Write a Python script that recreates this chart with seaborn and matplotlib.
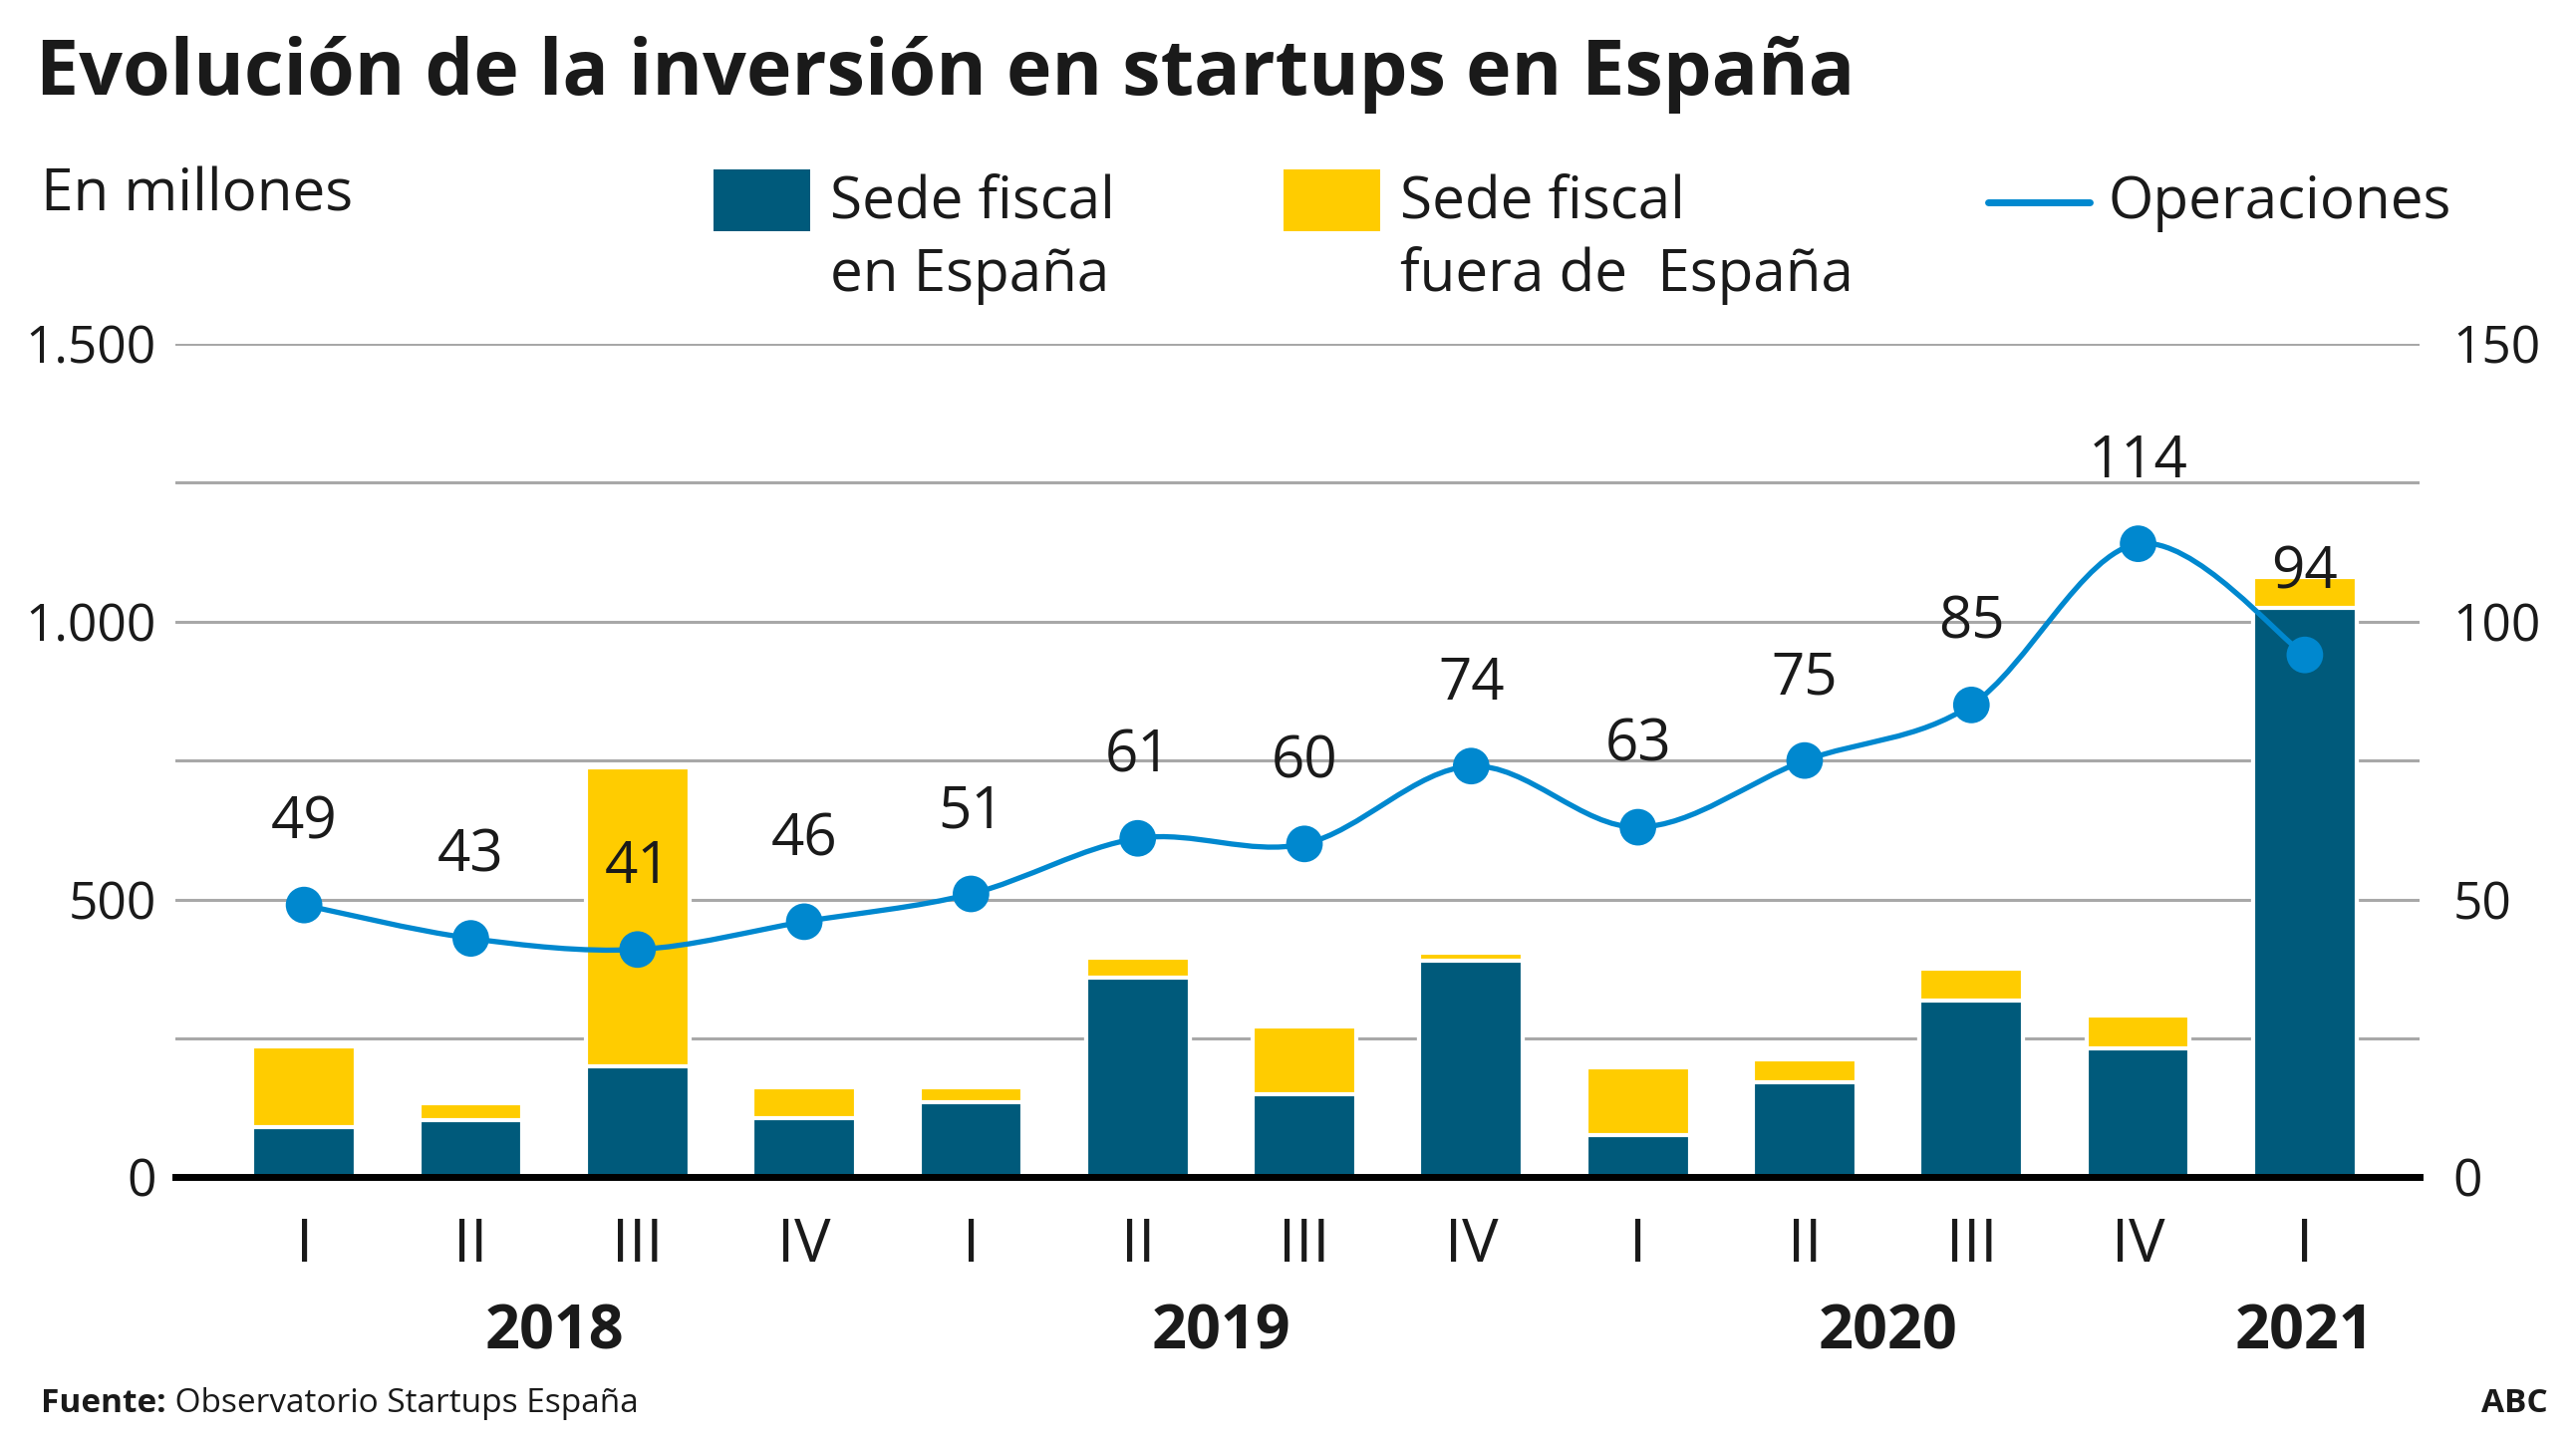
import numpy as np
import pandas as pd
import matplotlib
matplotlib.use('Agg')
import matplotlib.pyplot as plt
import seaborn as sns
from matplotlib.path import Path
from matplotlib.patches import PathPatch, Rectangle
from matplotlib.lines import Line2D

# data
quarters = ['I', 'II', 'III', 'IV', 'I', 'II', 'III', 'IV', 'I', 'II', 'III', 'IV', 'I']
years = ['2018'] * 4 + ['2019'] * 4 + ['2020'] * 4 + ['2021']
sede_espana = [91, 103, 200, 106, 136, 360, 150, 389, 77, 171, 319, 233, 1024]
sede_fuera = [145, 30, 537, 56, 26, 35, 121, 15, 121, 41, 56, 59, 56]
operaciones = [49, 43, 41, 46, 51, 61, 60, 74, 63, 75, 85, 114, 94]

BLUE = '#005a7b'
YELLOW = '#ffcc00'
LINE = '#0088cf'
TXT = '#1a1a1a'

df = pd.DataFrame({
    'periodo': [f'{y}-{q}' for y, q in zip(years, quarters)],
    'espana': sede_espana,
    'total': np.array(sede_espana) + np.array(sede_fuera),
})

sns.set_style('white')
plt.rcParams['font.family'] = ['Open Sans', 'DejaVu Sans']
plt.rcParams['text.color'] = TXT

fig = plt.figure(figsize=(25.85, 14.55), dpi=100)
ax = fig.add_axes([0.0682, 0.188, 0.8712, 0.575])

sns.barplot(data=df, x='periodo', y='total', color=YELLOW, saturation=1, width=0.62,
            edgecolor='white', linewidth=3, errorbar=None, ax=ax)
sns.barplot(data=df, x='periodo', y='espana', color=BLUE, saturation=1, width=0.62,
            edgecolor='white', linewidth=3, errorbar=None, ax=ax)

ax.set_ylim(0, 1500)
ax.set_xlim(-0.77, 12.69)
ax.set_yticks([0, 500, 1000, 1500])
ax.set_yticklabels(['0', '500', '1.000', '1.500'])
ax.set_yticks(np.arange(0, 1501, 250), minor=True)
ax.set_axisbelow(True)
ax.grid(which='both', axis='y', color='#a8a8a8', lw=2.2)
ax.tick_params(axis='y', which='both', length=0, pad=14, labelsize=37, labelcolor=TXT)
ax.set_xticks(range(len(quarters)))
ax.set_xticklabels(quarters)
ax.tick_params(axis='x', length=0, pad=28, labelsize=44, labelcolor=TXT)
ax.set_xlabel('')
ax.set_ylabel('')
for s in ['top', 'left', 'right']:
    ax.spines[s].set_visible(False)
ax.spines['bottom'].set_color('black')
ax.spines['bottom'].set_linewidth(5)
ax.spines['bottom'].set_zorder(5)

# year labels under each group of quarters
xs = np.arange(len(quarters))
for yr in dict.fromkeys(years):
    pos = xs[np.array(years) == yr].mean()
    ax.text(pos, -0.187, yr, transform=ax.get_xaxis_transform(), ha='center', va='center',
            fontsize=44, fontweight='bold')

# operations on the secondary axis
ax2 = ax.twinx()
ax2.set_ylim(0, 150)
ax2.set_yticks([0, 50, 100, 150])
ax2.tick_params(axis='y', length=0, pad=24, labelsize=37, labelcolor=TXT)
for s in ax2.spines.values():
    s.set_visible(False)

# smooth curve through the points (Catmull-Rom as Bezier segments)
pts = np.column_stack([xs, operaciones]).astype(float)
ext = np.vstack([pts[0], pts, pts[-1]])
verts = [tuple(pts[0])]
codes = [Path.MOVETO]
for i in range(len(pts) - 1):
    p0, p1, p2, p3 = ext[i], ext[i + 1], ext[i + 2], ext[i + 3]
    c1 = p1 + (p2 - p0) / 6
    c2 = p2 - (p3 - p1) / 6
    verts += [tuple(c1), tuple(c2), tuple(p2)]
    codes += [Path.CURVE4] * 3
ax2.add_patch(PathPatch(Path(verts, codes), fill=False, edgecolor=LINE, lw=3.8, zorder=3))
sns.scatterplot(x=xs, y=operaciones, ax=ax2, s=700, color=LINE, edgecolor='none', zorder=4)
for x, v in zip(xs, operaciones):
    ax2.annotate(str(v), (x, v), xytext=(0, 59), textcoords='offset points',
                 ha='center', va='center', fontsize=42, color=TXT, zorder=5)
ax2.set_xlim(-0.77, 12.69)

# title, units, legend, footer
fig.text(0.014, 0.975, 'Evolución de la inversión en startups en España', ha='left', va='top',
         fontsize=55.5, fontweight='bold')
fig.text(0.016, 0.885, 'En millones', ha='left', va='top', fontsize=42)

fig.add_artist(Rectangle((0.2768, 0.8403), 0.0376, 0.043, transform=fig.transFigure,
                         facecolor=BLUE, edgecolor='none'))
fig.text(0.3221, 0.880, 'Sede fiscal\nen España', ha='left', va='top', fontsize=42, linespacing=1.32)
fig.add_artist(Rectangle((0.4981, 0.8403), 0.0376, 0.043, transform=fig.transFigure,
                         facecolor=YELLOW, edgecolor='none'))
fig.text(0.5434, 0.880, 'Sede fiscal\nfuera de  España', ha='left', va='top', fontsize=42,
         linespacing=1.32)
fig.add_artist(Line2D([0.7717, 0.8112], [0.8607, 0.8607], transform=fig.transFigure,
                      color=LINE, lw=5, solid_capstyle='round'))
fig.text(0.8182, 0.880, 'Operaciones', ha='left', va='top', fontsize=42)

src = fig.text(0.016, 0.032, 'Fuente:', ha='left', va='center', fontsize=24, fontweight='bold')
ax.annotate(' Observatorio Startups España', xy=(1, 0.5), xycoords=src, ha='left', va='center',
            fontsize=24, annotation_clip=False)
fig.text(0.989, 0.032, 'ABC', ha='right', va='center', fontsize=24, fontweight='bold')

fig.savefig('out.png', dpi=100)
